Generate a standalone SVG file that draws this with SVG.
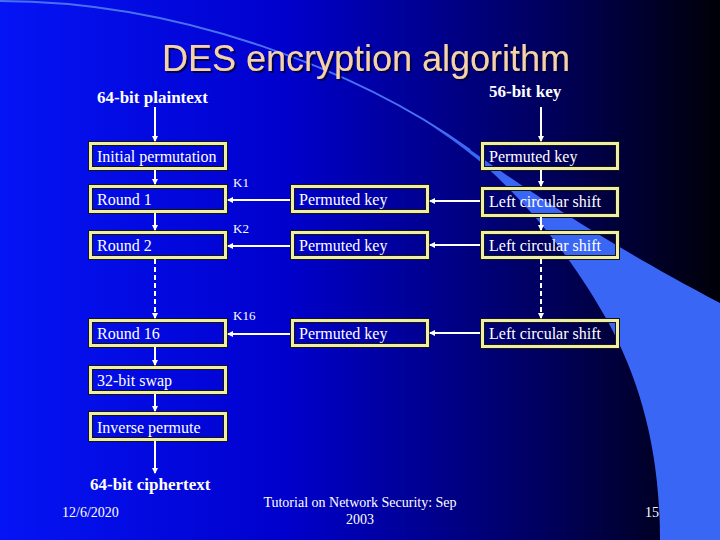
<svg xmlns="http://www.w3.org/2000/svg" width="720" height="540" viewBox="0 0 720 540">
<defs>
<linearGradient id="bg" x1="0" y1="0" x2="1" y2="0">
<stop offset="0" stop-color="#0514f5"/>
<stop offset="0.4" stop-color="#0000cc"/>
<stop offset="0.75" stop-color="#000060"/>
<stop offset="1" stop-color="#000008"/>
</linearGradient>
<marker id="ah" viewBox="0 0 6 6" refX="5" refY="3" markerWidth="3" markerHeight="3" orient="auto" markerUnits="strokeWidth">
<path d="M0,0 L6,3 L0,6 Z" fill="#ffffff"/>
</marker>
<filter id="sh" x="-5%" y="-20%" width="110%" height="140%">
<feDropShadow dx="2" dy="2" stdDeviation="0.6" flood-color="#000030" flood-opacity="0.8"/>
</filter>
</defs>
<style>
.bo{fill:none;stroke:#151515;stroke-width:5}
.bi{fill:none;stroke:#eeeea6;stroke-width:3}
.t{font-family:"Liberation Serif","Times New Roman",serif;font-size:16px;fill:#ffffff}
.k{font-family:"Liberation Serif","Times New Roman",serif;font-size:13px;fill:#ffffff}
.b{font-family:"Liberation Serif","Times New Roman",serif;font-size:17px;font-weight:bold;fill:#ffffff}
.f{font-family:"Liberation Serif","Times New Roman",serif;font-size:14px;fill:#ffffff}
.ln{stroke:#ffffff;stroke-width:2;fill:none;marker-end:url(#ah)}
.dl{stroke:#ffffff;stroke-width:2;fill:none;stroke-dasharray:5 3;marker-end:url(#ah)}
</style>
<rect x="0" y="0" width="720" height="540" fill="url(#bg)"/>
<path d="M0,1 C180,1 360,71 470,150" fill="none" stroke="#4a70f2" stroke-width="2"/>
<path d="M430,125 C450,136 460,143 469,149 C520,185 600,240 720,303 L720,540 L660,540 C660,450 640,380 607,320 C580,272 540,215 483,164 C465,149 450,138 430,125 Z" fill="#3a66f6"/>
<text x="366" y="71" text-anchor="middle" font-family="'Liberation Sans',Arial,sans-serif" font-size="36" fill="#f5d2a8" filter="url(#sh)">DES encryption algorithm</text>
<g id="plaintext"><text class="b" x="97" y="103">64-bit plaintext</text></g>
<g id="key56"><text class="b" x="489" y="97">56-bit key</text></g>
<g id="initperm"><rect class="bo" x="90.5" y="143.5" width="135" height="25"/><rect class="bi" x="90.5" y="143.5" width="135" height="25"/><text class="t" x="97" y="162">Initial permutation</text></g>
<g id="round1"><rect class="bo" x="90.5" y="186.5" width="135" height="25"/><rect class="bi" x="90.5" y="186.5" width="135" height="25"/><text class="t" x="97" y="205">Round 1</text></g>
<g id="round2"><rect class="bo" x="90.5" y="232.5" width="135" height="25"/><rect class="bi" x="90.5" y="232.5" width="135" height="25"/><text class="t" x="97" y="251">Round 2</text></g>
<g id="round16"><rect class="bo" x="90.5" y="320.5" width="135" height="25"/><rect class="bi" x="90.5" y="320.5" width="135" height="25"/><text class="t" x="97" y="339">Round 16</text></g>
<g id="swap"><rect class="bo" x="90.5" y="367.5" width="135" height="25"/><rect class="bi" x="90.5" y="367.5" width="135" height="25"/><text class="t" x="97" y="386">32-bit swap</text></g>
<g id="invperm"><rect class="bo" x="90.5" y="413.5" width="135" height="26"/><rect class="bi" x="90.5" y="413.5" width="135" height="26"/><text class="t" x="97" y="433">Inverse permute</text></g>
<g id="ciphertext"><text class="b" x="90" y="490">64-bit ciphertext</text></g>
<g id="pk1"><rect class="bo" x="292.5" y="186.5" width="135" height="25"/><rect class="bi" x="292.5" y="186.5" width="135" height="25"/><text class="t" x="299" y="205">Permuted key</text></g>
<g id="pk2"><rect class="bo" x="292.5" y="232.5" width="135" height="25"/><rect class="bi" x="292.5" y="232.5" width="135" height="25"/><text class="t" x="299" y="251">Permuted key</text></g>
<g id="pk16"><rect class="bo" x="292.5" y="320.5" width="135" height="25"/><rect class="bi" x="292.5" y="320.5" width="135" height="25"/><text class="t" x="299" y="339">Permuted key</text></g>
<g id="pktop"><rect class="bo" x="482.5" y="143.5" width="135" height="25"/><rect class="bi" x="482.5" y="143.5" width="135" height="25"/><text class="t" x="489" y="162">Permuted key</text></g>
<g id="lcs1"><rect class="bo" x="482.5" y="188.5" width="135" height="27"/><rect class="bi" x="482.5" y="188.5" width="135" height="27"/><text class="t" x="489" y="207">Left circular shift</text></g>
<g id="lcs2"><rect class="bo" x="482.5" y="232.5" width="135" height="25"/><rect class="bi" x="482.5" y="232.5" width="135" height="25"/><text class="t" x="489" y="251">Left circular shift</text></g>
<g id="lcs16"><rect class="bo" x="482.5" y="320.5" width="135" height="26"/><rect class="bi" x="482.5" y="320.5" width="135" height="26"/><text class="t" x="489" y="339">Left circular shift</text></g>
<g id="connectors">
<line class="ln" x1="155" y1="107" x2="155" y2="141"/>
<line class="ln" x1="155" y1="170" x2="155" y2="184"/>
<line class="ln" x1="155" y1="213" x2="155" y2="230"/>
<line class="dl" x1="155" y1="259" x2="155" y2="318"/>
<line class="ln" x1="155" y1="347" x2="155" y2="365"/>
<line class="ln" x1="155" y1="394" x2="155" y2="411"/>
<line class="ln" x1="155" y1="441" x2="155" y2="473"/>
<line class="ln" x1="541" y1="107" x2="541" y2="141"/>
<line class="ln" x1="541" y1="170" x2="541" y2="186"/>
<line class="ln" x1="541" y1="217" x2="541" y2="230"/>
<line class="dl" x1="541" y1="259" x2="541" y2="318"/>
<line class="ln" x1="290" y1="200" x2="228" y2="200"/>
<line class="ln" x1="290" y1="246" x2="228" y2="246"/>
<line class="ln" x1="290" y1="334" x2="228" y2="334"/>
<line class="ln" x1="480" y1="201" x2="430" y2="201"/>
<line class="ln" x1="480" y1="245" x2="430" y2="245"/>
<line class="ln" x1="480" y1="333" x2="430" y2="333"/>
<text class="k" x="233" y="187">K1</text>
<text class="k" x="233" y="233">K2</text>
<text class="k" x="233" y="320">K16</text>
</g>
<text class="f" x="62" y="517">12/6/2020</text>
<text class="f" x="360" y="507" text-anchor="middle">Tutorial on Network Security: Sep</text>
<text class="f" x="360" y="524" text-anchor="middle">2003</text>
<text class="f" x="645" y="517">15</text>
</svg>
